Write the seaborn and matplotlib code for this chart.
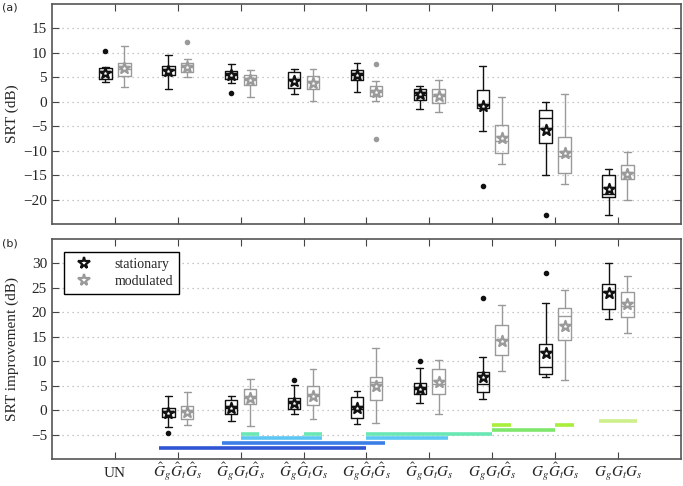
import matplotlib
matplotlib.use("Agg")
import matplotlib.pyplot as plt
import seaborn as sns
import numpy as np
from matplotlib.lines import Line2D

# conditions (x positions 1..9)
conditions = ["UN",
              r"$\hat{G}_g\hat{G}_t\hat{G}_s$",
              r"$\hat{G}_g G_t\hat{G}_s$",
              r"$\hat{G}_g\hat{G}_t G_s$",
              r"$G_g\hat{G}_t\hat{G}_s$",
              r"$\hat{G}_g G_t G_s$",
              r"$G_g G_t\hat{G}_s$",
              r"$G_g\hat{G}_t G_s$",
              r"$G_g G_t G_s$"]

# (a) SRT, all 9 conditions
srt_stat_whishi = [7.0, 9.5, 7.8, 6.6, 8.0, 3.3, 7.3, -0.15, -13.7]
srt_stat_q3 = [6.8, 7.4, 6.35, 6.0, 6.5, 2.7, 2.3, -1.7, -14.9]
srt_stat_med = [6.1, 6.5, 5.5, 4.5, 5.5, 1.35, -0.7, -3.25, -18.8]
srt_stat_q1 = [4.7, 5.4, 4.6, 2.8, 4.5, 0.4, -1.35, -8.45, -19.4]
srt_stat_whislo = [4.05, 2.6, 3.8, 1.55, 1.95, -1.55, -6.0, -14.9, -23.2]
srt_stat_mean = [5.8, 6.35, 5.5, 4.3, 5.4, 1.5, -0.95, -5.7, -17.8]
srt_stat_fliers = {0: [10.4], 2: [1.8], 6: [-17.3], 7: [-23.1]}

srt_mod_whishi = [11.35, 8.65, 6.4, 6.6, 4.2, 4.4, 0.9, 1.5, -10.3]
srt_mod_q3 = [8.0, 8.0, 5.5, 5.2, 3.2, 2.6, -4.7, -7.2, -13.0]
srt_mod_med = [6.7, 7.0, 4.5, 4.1, 2.0, 1.1, -8.0, -11.1, -14.6]
srt_mod_q1 = [5.2, 6.1, 3.5, 2.6, 1.1, -0.27, -10.5, -14.6, -15.8]
srt_mod_whislo = [3.0, 5.0, 0.95, 0.1, 0.1, -2.2, -12.7, -16.9, -20.1]
srt_mod_mean = [6.8, 7.2, 4.4, 3.9, 1.9, 1.1, -7.4, -10.5, -14.7]
srt_mod_fliers = {1: [12.3], 4: [7.8, -7.6]}

# (b) SRT improvement, conditions 2..9
imp_stat_whishi = [2.9, 2.9, 5.1, 4.0, 8.6, 10.85, 22.0, 30.2]
imp_stat_q3 = [0.4, 2.1, 2.45, 2.7, 5.6, 7.8, 13.6, 25.9]
imp_stat_med = [-0.4, 0.5, 1.5, 0.3, 4.4, 5.35, 8.8, 24.2]
imp_stat_q1 = [-1.35, -0.7, 0.15, -1.55, 3.25, 3.7, 7.4, 20.6]
imp_stat_whislo = [-3.5, -2.2, -0.7, -2.9, 1.5, 2.3, 6.7, 18.6]
imp_stat_mean = [-0.5, 0.5, 1.55, 0.5, 4.4, 6.85, 11.6, 23.9]
imp_stat_fliers = {0: [-4.75], 2: [6.1], 4: [10.1], 5: [23.0], 6: [28.0]}

imp_mod_whishi = [3.7, 6.3, 8.5, 12.8, 10.2, 21.5, 24.5, 27.4]
imp_mod_q3 = [0.9, 4.3, 4.9, 6.8, 8.4, 17.5, 20.95, 24.2]
imp_mod_med = [-0.35, 2.5, 2.9, 5.8, 5.4, 14.3, 19.3, 21.3]
imp_mod_q1 = [-1.9, 1.35, 1.1, 2.1, 3.25, 11.25, 14.3, 19.0]
imp_mod_whislo = [-3.1, -3.25, -1.75, -2.6, -0.8, 8.1, 6.2, 15.8]
imp_mod_mean = [-0.4, 2.5, 2.8, 4.9, 5.7, 14.2, 17.3, 21.7]
imp_mod_fliers = {}

# significance bars in (b)
sig_start = [1.7, 2.7, 3.0, 5.0, 3.0, 4.0, 5.0, 7.0, 7.0, 8.0, 8.7]
sig_end = [5.0, 5.3, 4.3, 6.3, 3.3, 4.3, 7.0, 8.0, 7.3, 8.3, 9.3]
sig_y = [-7.7, -6.75, -5.8, -5.8, -4.95, -4.95, -4.95, -4.05, -3.1, -3.1, -2.2]
sig_colors = ["#2f55d4", "#3b7fe6", "#5ec6f2", "#5ec6f2", "#6ae8b4", "#6ae8b4",
              "#6ae8b4", "#7ee66a", "#a8ee3a", "#a8ee3a", "#cdf08a"]

BLACK = "#111111"
GRAY = "#9a9a9a"

sns.set_style("ticks")
plt.rcParams["font.family"] = ["Liberation Serif", "DejaVu Serif"]
plt.rcParams["mathtext.fontset"] = "stix"


def make_stats(whislo, q1, med, q3, whishi, fliers):
    stats = []
    for i in range(len(med)):
        stats.append(dict(whislo=whislo[i], q1=q1[i], med=med[i], q3=q3[i],
                          whishi=whishi[i], fliers=fliers.get(i, [])))
    return stats


def draw_boxes(ax, stats, pos, mean, color):
    lp = dict(color=color, linewidth=1.0)
    ax.bxp(stats, positions=pos, widths=0.2, capwidths=0.11,
           boxprops=lp, whiskerprops=lp, capprops=lp, medianprops=lp,
           flierprops=dict(marker="o", markerfacecolor=color,
                           markeredgecolor=color, markersize=3),
           manage_ticks=False, zorder=3)
    sns.scatterplot(x=pos, y=mean, marker="*", s=65, color="white",
                    edgecolor=color, linewidth=1.6, ax=ax, zorder=4)


def style_axes(ax, ylim, yticks):
    ax.set_xlim(0, 10)
    ax.set_ylim(*ylim)
    ax.set_yticks(yticks)
    ax.set_xticks(np.arange(1, 10))
    ax.yaxis.grid(True, linestyle=(0, (1, 3)), color="#b5b5b5", linewidth=0.9)
    ax.set_axisbelow(True)
    ax.tick_params(direction="in", top=True, right=True, length=5,
                   color="#444444", labelsize=11)
    for sp in ax.spines.values():
        sp.set_color("#555555")
        sp.set_linewidth(1.2)


fig = plt.figure(figsize=(6.83, 4.86), dpi=100)
ax1 = fig.add_axes([0.076, 0.539, 0.921, 0.453])
ax2 = fig.add_axes([0.076, 0.0556, 0.921, 0.4525])

pos_all = np.arange(1, 10)
draw_boxes(ax1, make_stats(srt_stat_whislo, srt_stat_q1, srt_stat_med, srt_stat_q3,
                           srt_stat_whishi, srt_stat_fliers),
           pos_all - 0.15, srt_stat_mean, BLACK)
draw_boxes(ax1, make_stats(srt_mod_whislo, srt_mod_q1, srt_mod_med, srt_mod_q3,
                           srt_mod_whishi, srt_mod_fliers),
           pos_all + 0.15, srt_mod_mean, GRAY)
style_axes(ax1, (-25, 20), np.arange(-20, 16, 5))
ax1.set_xticklabels([])
ax1.set_ylabel("SRT (dB)", fontsize=11)
ax1.yaxis.set_label_coords(-0.052, 0.5)

pos_imp = np.arange(2, 10)
draw_boxes(ax2, make_stats(imp_stat_whislo, imp_stat_q1, imp_stat_med, imp_stat_q3,
                           imp_stat_whishi, imp_stat_fliers),
           pos_imp - 0.15, imp_stat_mean, BLACK)
draw_boxes(ax2, make_stats(imp_mod_whislo, imp_mod_q1, imp_mod_med, imp_mod_q3,
                           imp_mod_whishi, imp_mod_fliers),
           pos_imp + 0.15, imp_mod_mean, GRAY)
ax2.hlines(sig_y, sig_start, sig_end, colors=sig_colors, linewidth=2.6, zorder=2)
style_axes(ax2, (-10, 35), np.arange(-5, 31, 5))
ax2.set_xticklabels(conditions, fontsize=11)
ax2.tick_params(axis="x", pad=13)
for lab in ax2.get_xticklabels():
    lab.set_verticalalignment("baseline")
ax2.set_ylabel("SRT improvement (dB)", fontsize=11)
ax2.yaxis.set_label_coords(-0.052, 0.5)

handles = [Line2D([], [], linestyle="none", marker="*", markersize=8.5,
                  markerfacecolor="white", markeredgecolor=BLACK, markeredgewidth=1.6),
           Line2D([], [], linestyle="none", marker="*", markersize=8.5,
                  markerfacecolor="white", markeredgecolor=GRAY, markeredgewidth=1.6)]
leg = ax2.legend(handles, ["stationary", "modulated"], loc="upper left",
                 bbox_to_anchor=(0.02, 0.94), borderaxespad=0, fancybox=False,
                 edgecolor="black", framealpha=1, fontsize=10, handletextpad=1.2,
                 borderpad=0.4, labelspacing=0.3)
leg.get_frame().set_linewidth(1.0)

fig.text(0.003, 0.985, "(a)", fontsize=8, family="DejaVu Sans", va="center")
fig.text(0.003, 0.498, "(b)", fontsize=8, family="DejaVu Sans", va="center")

fig.savefig("out.png", dpi=100)
